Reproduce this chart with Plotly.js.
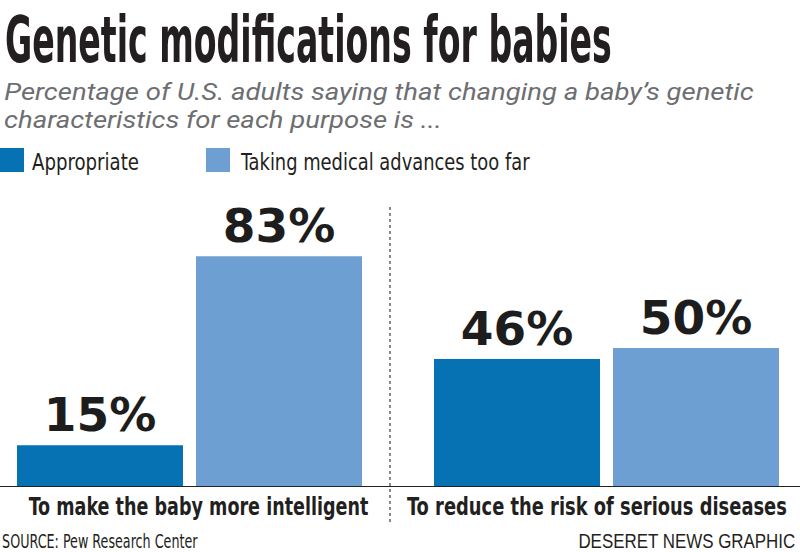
<!DOCTYPE html>
<html><head><meta charset="utf-8">
<script src="https://cdn.plot.ly/plotly-3.0.1.min.js"></script>
<style>html,body{margin:0;padding:0;background:#fff}#chart{width:800px;height:552px}</style>
</head><body><div id="chart"></div>
<script>
// ---- data ----
const categories = ["To make the baby more intelligent", "To reduce the risk of serious diseases"];
const seriesNames = ["Appropriate", "Taking medical advances too far"];
const appropriate = [15, 46];
const tooFar = [83, 50];
const seriesColors = ["#0772b3", "#6d9fd2"];
const titleText = "Genetic modifications for babies";
const subtitleLines = ["Percentage of U.S. adults saying that changing a baby\u2019s genetic", "characteristics for each purpose is ..."];
const sourceText = "SOURCE: Pew Research Center";
const creditText = "DESERET NEWS GRAPHIC";

// ---- geometry helpers (page pixels -> paper) ----
const W = 800, H = 552, T = 200, B = 487;
const xp = px => px / W;
const yp = py => (B - py) / (B - T);
const mid = (base, size) => yp(base - 0.35 * size);

const NARROW = '"Liberation Sans Narrow", "DejaVu Sans Condensed", "Liberation Sans", sans-serif';
const DARK = '#231f20';

const data = [
  {type: 'bar', name: seriesNames[0], x: [0, 1], y: appropriate, marker: {color: seriesColors[0], line: {width: 0}},
   texttemplate: '%{y}%', textposition: 'outside', constraintext: 'none', cliponaxis: false,
   textfont: {family: '"DejaVu Sans", sans-serif', size: 47, weight: 'bold', color: '#1d1d1d'}},
  {type: 'bar', name: seriesNames[1], x: [0, 1], y: tooFar, marker: {color: seriesColors[1], line: {width: 0}},
   texttemplate: '%{y}%', textposition: 'outside', constraintext: 'none', cliponaxis: false,
   textfont: {family: '"DejaVu Sans", sans-serif', size: 47, weight: 'bold', color: '#1d1d1d'}}
];

const ann = [];
const fits = [];
function addAnn(o, fit) { ann.push(Object.assign({showarrow: false, xref: 'paper', yref: 'paper', yanchor: 'middle'}, o)); fits.push(fit || null); }

addAnn({text: subtitleLines[0], x: xp(2), xanchor: 'left', y: mid(100, 24), font: {family: 'Roboto, sans-serif', size: 24, style: 'italic', color: '#6d6e71'}}, {w: 750, a: 'left'});
addAnn({text: subtitleLines[1], x: xp(2), xanchor: 'left', y: mid(128, 24), font: {family: 'Roboto, sans-serif', size: 24, style: 'italic', color: '#6d6e71'}}, {w: 438, a: 'left'});
addAnn({text: seriesNames[0], x: xp(30), xanchor: 'left', y: mid(170, 23), font: {family: NARROW, size: 23, color: DARK}}, {w: 107, a: 'left'});
addAnn({text: seriesNames[1], x: xp(238), xanchor: 'left', y: mid(170, 23), font: {family: NARROW, size: 23, color: DARK}}, {w: 290, a: 'left'});
addAnn({text: categories[0], xref: 'x', x: 0, xshift: 8.5, xanchor: 'center', y: mid(515, 25), font: {family: NARROW, size: 25, weight: 'bold', color: DARK}}, {w: 340, a: 'center'});
addAnn({text: categories[1], xref: 'x', x: 1, xshift: -9.5, xanchor: 'center', y: mid(515, 25), font: {family: NARROW, size: 25, weight: 'bold', color: DARK}}, {w: 380, a: 'center'});
addAnn({text: sourceText, x: xp(0), xanchor: 'left', y: mid(548, 20), font: {family: NARROW, size: 20, color: DARK}}, {w: 196, a: 'left'});
addAnn({text: creditText, x: xp(797), xanchor: 'right', y: mid(548, 20), font: {family: '"Liberation Sans", sans-serif', size: 20, color: DARK}}, {w: 217, a: 'right'});

const shapes = [
  {type: 'rect', xref: 'paper', yref: 'paper', x0: xp(0), x1: xp(24), y0: yp(172), y1: yp(148), fillcolor: seriesColors[0], line: {width: 0}},
  {type: 'rect', xref: 'paper', yref: 'paper', x0: xp(206), x1: xp(230), y0: yp(172), y1: yp(148), fillcolor: seriesColors[1], line: {width: 0}},
  {type: 'line', xref: 'paper', yref: 'y', x0: 0, x1: 1, y0: 0, y1: 0, line: {color: '#222', width: 2}, layer: 'above'},
  {type: 'line', xref: 'x', yref: 'paper', x0: 0.4808, x1: 0.4808, y0: yp(522), y1: yp(205), line: {color: '#8a8a8a', width: 2, dash: 'dot'}}
];

const layout = {
  width: W, height: H,
  margin: {l: 0, r: 0, t: T, b: H - B, pad: 0},
  paper_bgcolor: '#fff', plot_bgcolor: '#fff',
  showlegend: false,
  barmode: 'group', bargap: 0.1415, bargroupgap: 0.0726,
  title: {text: titleText, x: xp(5), xanchor: 'left', xref: 'paper', y: 1 - (62 - 0.35 * 64) / H, yanchor: 'middle', yref: 'container',
          font: {family: NARROW, size: 64, weight: 'bold', color: DARK}},
  xaxis: {range: [-189.5 / 417, 610.5 / 417], visible: false, showgrid: false, zeroline: false, fixedrange: true},
  yaxis: {range: [0, (B - T) / 2.78], visible: false, showgrid: false, zeroline: false, fixedrange: true},
  annotations: ann,
  shapes: shapes
};

Plotly.newPlot('chart', data, layout, {staticPlot: true, displayModeBar: false, responsive: false}).then(gd => {
  function fit(el, target, anchor) {
    const w = el.getBBox().width;
    if (!w) return;
    el.style.transformBox = 'fill-box';
    el.style.transformOrigin = anchor + ' center';
    el.style.transform = 'scaleX(' + (target / w) + ')';
  }
  const t = gd.querySelector('.gtitle');
  if (t) fit(t, 607, 'left');
  fits.forEach((f, i) => {
    if (!f) return;
    const el = gd.querySelector('.annotation[data-index="' + i + '"] text');
    if (el) fit(el, f.w, f.a);
  });
});
</script>
</body></html>
